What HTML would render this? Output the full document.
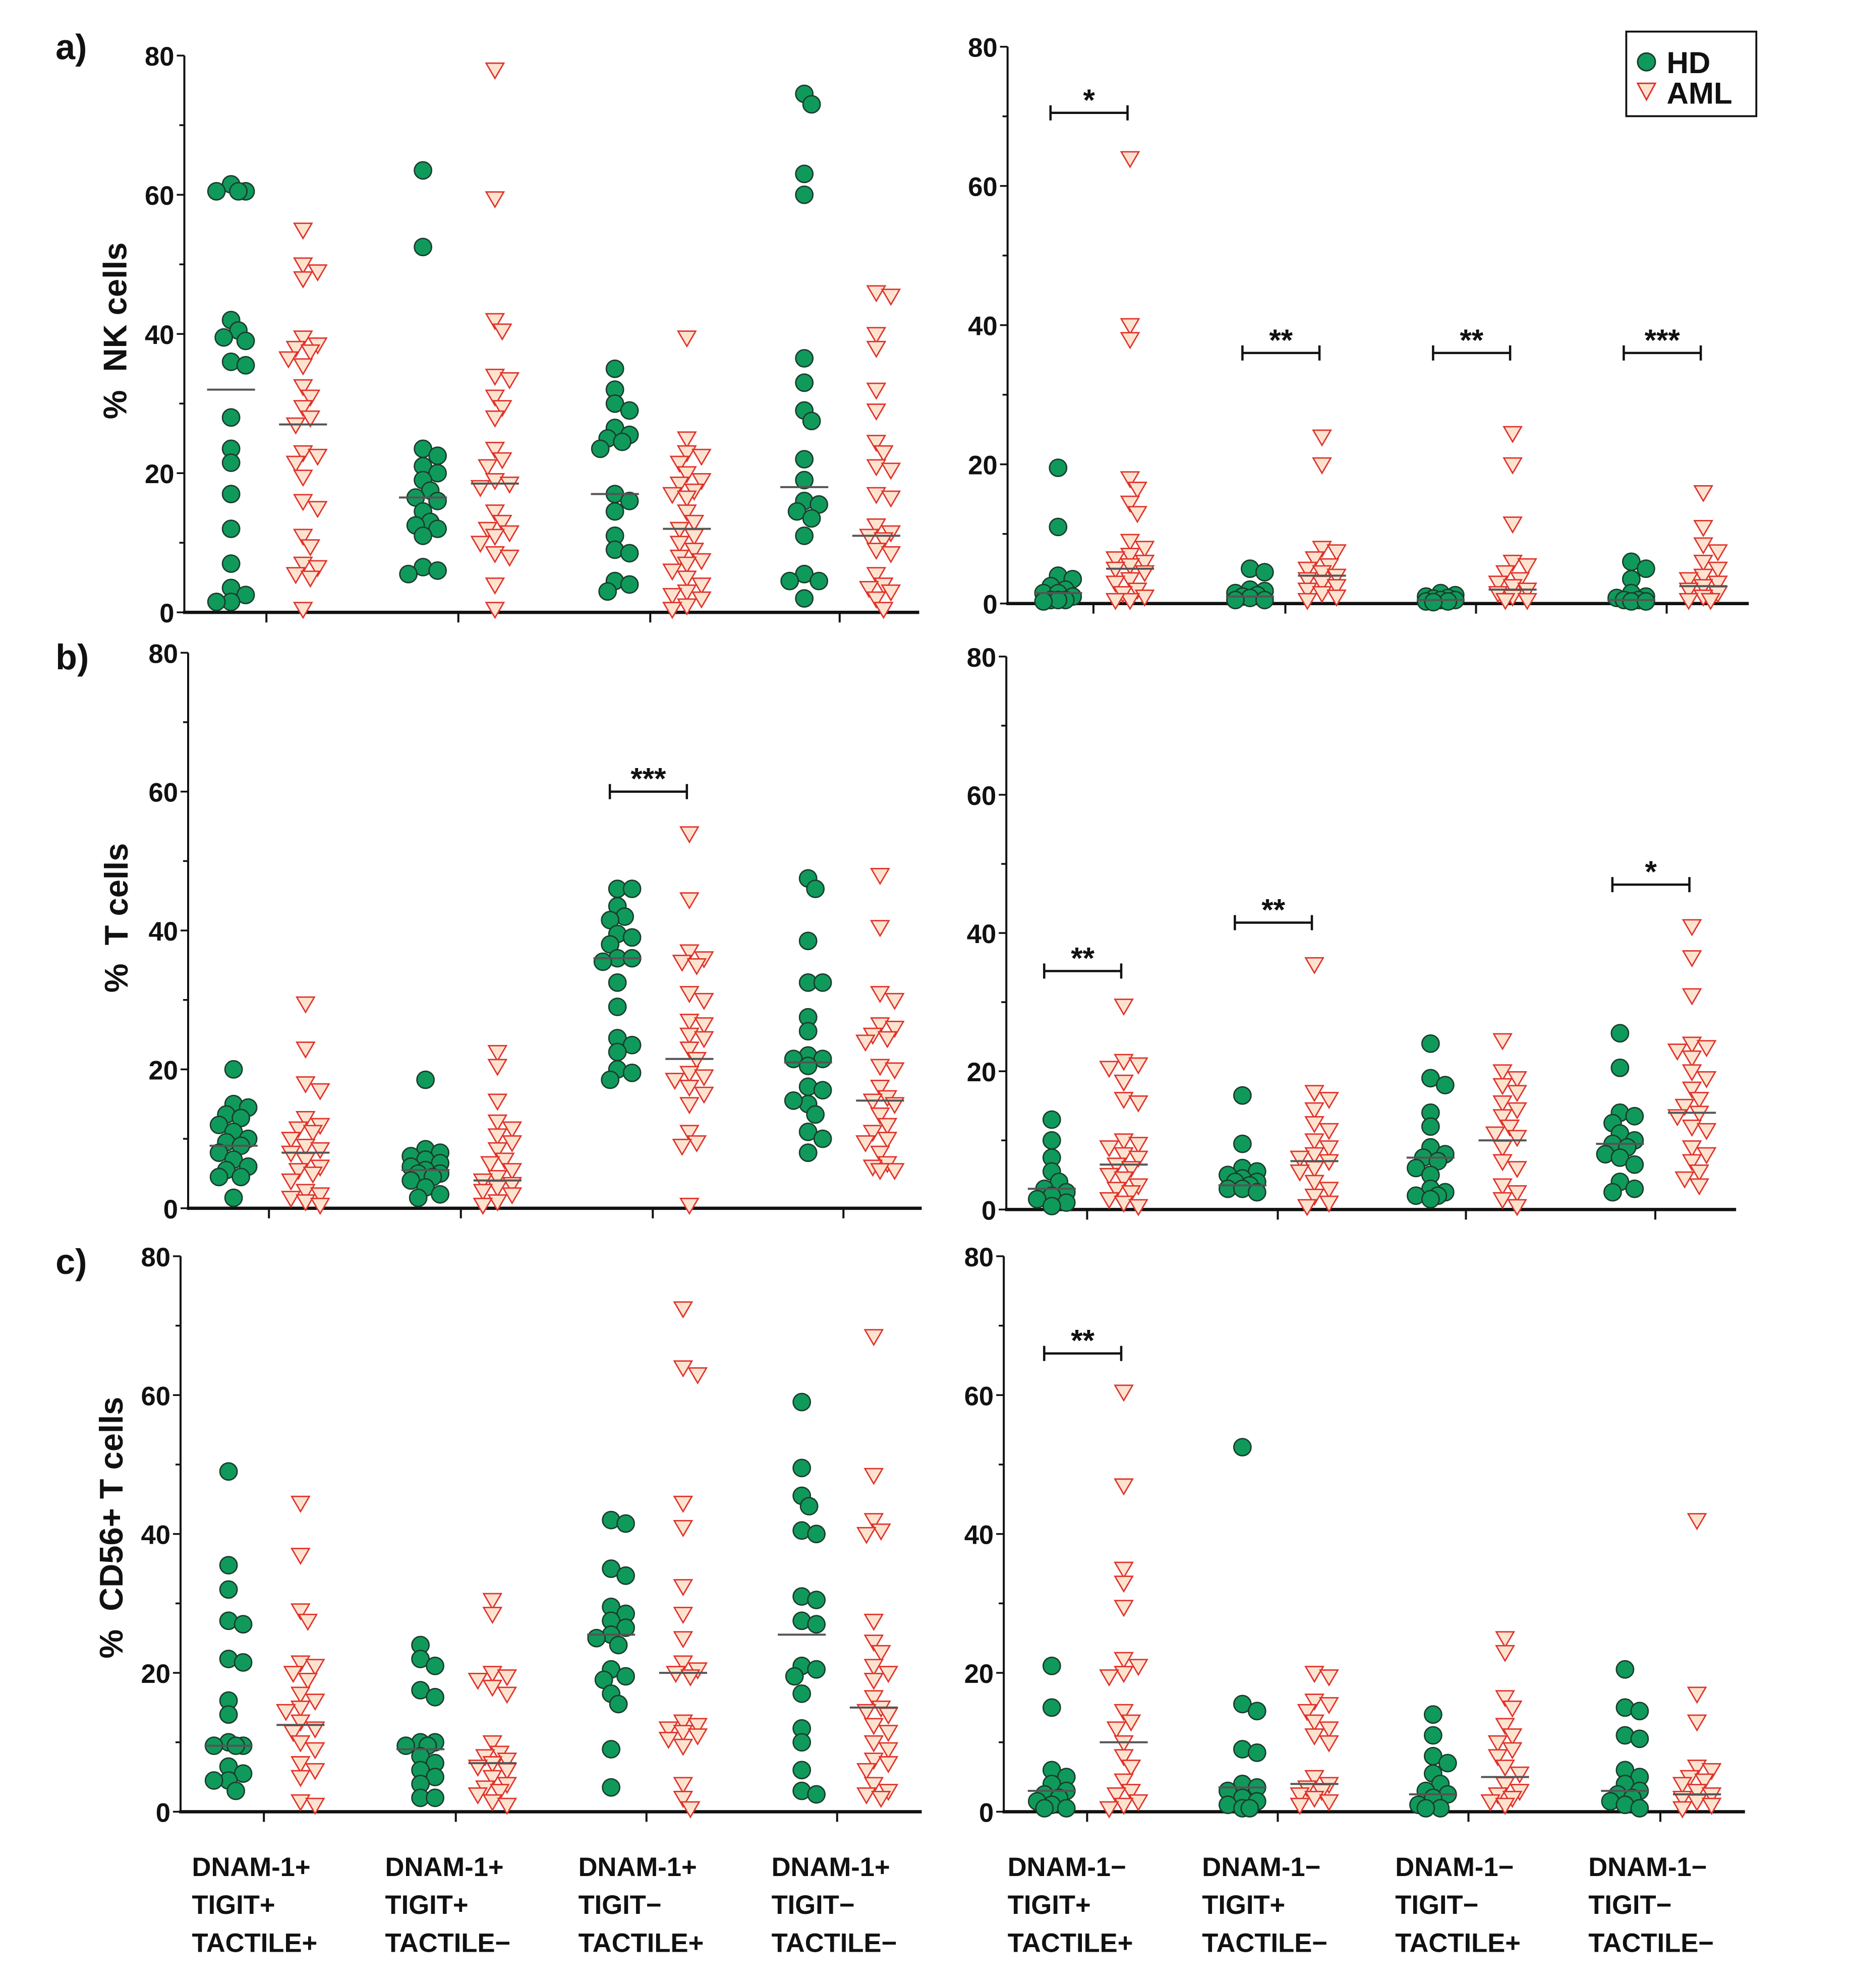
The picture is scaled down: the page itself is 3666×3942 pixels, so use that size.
<!DOCTYPE html>
<html><head><meta charset="utf-8"><style>
html,body{margin:0;padding:0;background:#fff;}
svg{display:block;}
text{font-family:"Liberation Sans",Arial,sans-serif;font-weight:bold;fill:#111;}
.tick{font-family:"Liberation Sans Narrow","Liberation Sans",sans-serif;font-size:21px;}
</style></head><body>
<svg id="fig" xmlns="http://www.w3.org/2000/svg" width="3666" height="3942" viewBox="0 0 1464.4 1574.6">
<rect x="0" y="0" width="1464.4" height="1574.6" fill="#fff"/>
<text x="44" y="47" font-size="28">a)</text>
<text x="44" y="530" font-size="28">b)</text>
<text x="44" y="1009" font-size="28">c)</text>
<text transform="translate(100,262) rotate(-90)" text-anchor="middle" font-size="26" xml:space="preserve">%  NK cells</text>
<text transform="translate(101,727) rotate(-90)" text-anchor="middle" font-size="26" xml:space="preserve">%  T cells</text>
<text transform="translate(97,1210) rotate(-90)" text-anchor="middle" font-size="26" xml:space="preserve">%  CD56+ T cells</text>
<g>
<rect x="1288" y="25" width="103" height="67" fill="#fff" stroke="#111" stroke-width="1.5"/>
<circle cx="1304" cy="49" r="7" fill="#0f9a5c" stroke="#1b3d2b" stroke-width="1.2"/>
<text x="1320" y="58" font-size="24">HD</text>
<polygon points="1297,66 1311,66 1304,79" fill="#fde3cf" stroke="#e0332b" stroke-width="1.2"/>
<text x="1320" y="82" font-size="24">AML</text>
</g>
<g font-size="21">
<text x="152" y="1486"><tspan x="152">DNAM-1+</tspan><tspan x="152" dy="30">TIGIT+</tspan><tspan x="152" dy="30">TACTILE+</tspan></text>
<text x="305" y="1486"><tspan x="305">DNAM-1+</tspan><tspan x="305" dy="30">TIGIT+</tspan><tspan x="305" dy="30">TACTILE−</tspan></text>
<text x="458" y="1486"><tspan x="458">DNAM-1+</tspan><tspan x="458" dy="30">TIGIT−</tspan><tspan x="458" dy="30">TACTILE+</tspan></text>
<text x="611" y="1486"><tspan x="611">DNAM-1+</tspan><tspan x="611" dy="30">TIGIT−</tspan><tspan x="611" dy="30">TACTILE−</tspan></text>
<text x="798" y="1486"><tspan x="798">DNAM-1−</tspan><tspan x="798" dy="30">TIGIT+</tspan><tspan x="798" dy="30">TACTILE+</tspan></text>
<text x="952" y="1486"><tspan x="952">DNAM-1−</tspan><tspan x="952" dy="30">TIGIT+</tspan><tspan x="952" dy="30">TACTILE−</tspan></text>
<text x="1105" y="1486"><tspan x="1105">DNAM-1−</tspan><tspan x="1105" dy="30">TIGIT−</tspan><tspan x="1105" dy="30">TACTILE+</tspan></text>
<text x="1258" y="1486"><tspan x="1258">DNAM-1−</tspan><tspan x="1258" dy="30">TIGIT−</tspan><tspan x="1258" dy="30">TACTILE−</tspan></text>
</g>
</svg>
<script>
// ---- data (percent values) ----
const yTicks = [0, 20, 40, 60, 80];
const yTickLabels = ["0", "20", "40", "60", "80"];
const nkPosHD = [[61.5,60.5,60.5,60.5,42,40.5,39.5,39,36,35.5,28,23.5,21.5,17,12,7,3.5,2.5,1.5,1.5],[63.5,52.5,23.5,22.5,21,20,19,17.5,16.5,16,14.5,13,12.5,12,11,6.5,6,5.5],[35,32,30,29,26.5,25.5,25,24.5,23.5,17,16,14.5,11,9,8.5,4.5,4,3],[74.5,73,63,60,36.5,33,29,27.5,22,19,16,15.5,14.5,13.5,11,5.5,4.5,4.5,2]];
const nkPosAML = [[55,50,49,48,39.5,38.5,38,37.5,36.5,35.5,32.5,31,29.5,28,27,23,22.5,21.5,19.5,16,15,11,9.5,7,6.5,5.5,5,0.5],[78,59.5,42,40.5,34,33.5,31,29.5,28,23.5,22,21,19,18.5,18,14.5,13,12,11.5,11,10,8.5,8,4,0.5],[39.5,25,23,22.5,21.5,20,19,18.5,17.5,17,16.5,14.5,13,12,11,10,9,8,7.5,7,6,5,4,3,2.5,2,1,0.5],[46,45.5,40,38,32,29,24.5,23,21,20.5,17,16.5,12.5,11.5,11,10.5,9,8.5,5.5,4,3.5,3,2,0.5]];
const nkPosMedHD = [32,16.5,17,18];
const nkPosMedAML = [27,18.5,12,11];
const nkNegHD = [[19.5,11,4,3.5,2.5,2,1.5,1.5,1,0.5,0.5,0.5,0.3],[5,4.5,2,1.8,1.5,1.2,1,0.8,0.5,0.5],[1.5,1.2,1,0.8,0.7,0.5,0.5,0.3,0.3,0.2],[6,5,3.5,1.5,1,0.8,0.5,0.5,0.3,0.3]];
const nkNegAML = [[64,40,38,18,16.5,14.5,13,9,8,7,6.5,6,5.5,5,4.5,3.5,3,2,1.5,1,0.5,0.5],[24,20,8,7.5,6.5,5.5,5,4.5,4,3.5,3,2.5,2,1.5,1,0.5],[24.5,20,11.5,6,5.5,4.5,3.5,3,2.5,2,1.5,1,0.5,0.5],[16,11,8.5,7.5,6,5,4,3.5,3,2.5,2,1.5,1,0.5,0.5]];
const nkNegMedHD = [1.5,1,0.5,0.5];
const nkNegMedAML = [5,4,2,2.5];
const nkNegSig = [["*",70.5],["**",36],["**",36],["***",36]];
const tPosHD = [[20,15,14.5,13.5,13,12,11,10,9.5,9,8,7,6,5.5,4.5,4.5,1.5],[18.5,8.5,8,7.5,7,6.5,6,5.5,5,5,4.5,4,3,2,1.5],[46,46,43.5,42,41.5,39.5,39,38,36,36,35.5,32.5,29,24.5,23.5,22.5,20,19.5,18.5],[47.5,46,38.5,32.5,32.5,27.5,25.5,22,21.5,21.5,20.5,17.5,17,15,15.5,13.5,11,10,8]];
const tPosAML = [[29.5,23,18,17,13,12,11.5,11,10,9,8.5,8,7,6,5.5,5,4,2.5,2,1.5,1,0.5],[22.5,20.5,15.5,12.5,11.5,10.5,9.5,8.5,7,6.5,5.5,4.5,4,3.5,3,2.5,2,1,0.5],[54,44.5,37,36,35.5,35,31,30,27,26.5,25,24.5,23,21.5,19.5,19,18.5,17.5,16.5,15,11,9.5,9,0.5],[48,40.5,31,30,26.5,26,25,24.5,24,20.5,20,17.5,16,15.5,15,13.5,12,11,10,9.5,8,6.5,6,5.5,5.5]];
const tPosMedHD = [9,5.5,36,21];
const tPosMedAML = [8,4,21.5,15.5];
const tPosSig = [null,null,["***",60],null];
const tNegHD = [[13,10,7.5,5.5,4,3,2.5,2,1.5,1,0.5],[16.5,9.5,6,5.5,5,4.5,4,4,3.5,3,3,2.5],[24,19,18,14,12,9,8,7.5,7,6,5,3,2.5,2,2,1.5],[25.5,20.5,14,13.5,12.5,11,10,9.5,9,8,7.5,6.5,4,3,2.5]];
const tNegAML = [[29.5,21.5,21,20.5,18.5,16,15.5,10,9.5,9,8,7.5,6.5,6,5,4.5,3.5,3,2.5,1.5,1,0.5],[35.5,17,16,14.5,12.5,11.5,10,9,8,7.5,7,6,5.5,4,3,2,1,0.5],[24.5,20,19,18,17,15.5,14.5,13.5,12,11,10.5,9,7,6,3.5,2.5,1.5,0.5],[41,36.5,31,24,23.5,23,22,20,19,17.5,16,15,14,13.5,12,11.5,9,8,7,5.5,4.5,3.5]];
const tNegMedHD = [3,3.5,7.5,9.5];
const tNegMedAML = [6.5,7,10,14];
const tNegSig = [["**",34.5],["**",41.5],null,["*",47]];
const cdPosHD = [[49,35.5,32,27.5,27,22,21.5,16,14,10,9.5,9.5,9.5,6.5,5.5,4.5,4.5,3],[24,22,21,17.5,16.5,10,10,9.5,9.5,8,7,6,5,4,2,2],[42,41.5,35,34,29.5,28.5,27.5,26.5,25.5,25,24,20.5,19.5,19,17,15.5,9,3.5],[59,49.5,45.5,44,40.5,40,31,30.5,27.5,27,21,20.5,19.5,17,12,10,6,3,2.5]];
const cdPosAML = [[44.5,37,29,27.5,21.5,21,20,19,17,16,15,14.5,13,12,11.5,10,9,7,6,5,1.5,1],[30.5,28.5,20,19.5,19,18,17,10,8.5,8,7.5,7,6.5,6,5,4,3.5,3,2.5,1.5,1],[72.5,64,63,44.5,41,32.5,28.5,25,21.5,20.5,20,19.5,13,12.5,12,11.5,11,10.5,9.5,4,2,0.5],[68.5,48.5,42,40.5,40,27.5,24.5,23,21,20,19,16.5,15,14.5,14,12.5,11.5,10,9,7.5,7,6,4,3,2.5,2]];
const cdPosMedHD = [9.5,9,25.5,25.5];
const cdPosMedAML = [12.5,7,20,15];
const cdNegHD = [[21,15,6,5,4,3,2.5,2,1.5,1,0.5,0.5],[52.5,15.5,14.5,9,8.5,4,3.5,3,2,1.5,1,0.5,0.5],[14,11,8,7,5.5,4,3,2.5,2,1,0.5,0.5],[20.5,15,14.5,11,10.5,6,5,4,3,2.5,2,1.5,1,0.5]];
const cdNegAML = [[60.5,47,35,33,29.5,22,21,20,19.5,14.5,13,12,10,8,6.5,4.5,3,2.5,1.5,1,0.5],[20,19.5,16,15.5,14.5,13,12,11,10,5,4,3.5,3,2.5,2,1.5,1],[25,23,16.5,15,12.5,11,10,9,8,6.5,5.5,4,3,2.5,2,1.5,1],[42,17,13,6.5,6,5,4.5,4,3,2.5,2,1.5,1,0.5]];
const cdNegMedHD = [3,3.5,2.5,3];
const cdNegMedAML = [10,4,5,2.5];
const cdNegSig = [["**",66],null,null,null];

// ---- layout ----
const NS = "http://www.w3.org/2000/svg";
const svg = document.getElementById("fig");
const panels = [
 {id:"nk-pos", ax:146, top:44, y0:485, end:728, ticks:[211,363,515,665], hd:nkPosHD, aml:nkPosAML, mh:nkPosMedHD, ma:nkPosMedAML, sig:[null,null,null,null]},
 {id:"nk-neg", ax:798, top:37, y0:478, end:1385, ticks:[866,1018,1169,1320], hd:nkNegHD, aml:nkNegAML, mh:nkNegMedHD, ma:nkNegMedAML, sig:nkNegSig},
 {id:"t-pos", ax:149, top:517, y0:957, end:730, ticks:[213,365,517,668], hd:tPosHD, aml:tPosAML, mh:tPosMedHD, ma:tPosMedAML, sig:tPosSig},
 {id:"t-neg", ax:797, top:520, y0:958, end:1375, ticks:[861,1012,1161,1311], hd:tNegHD, aml:tNegAML, mh:tNegMedHD, ma:tNegMedAML, sig:tNegSig},
 {id:"cd56-pos", ax:143, top:995, y0:1435, end:730, ticks:[209,361,512,663], hd:cdPosHD, aml:cdPosAML, mh:cdPosMedHD, ma:cdPosMedAML, sig:[null,null,null,null]},
 {id:"cd56-neg", ax:795, top:995, y0:1435, end:1382, ticks:[861,1012,1163,1315], hd:cdNegHD, aml:cdNegAML, mh:cdNegMedHD, ma:cdNegMedAML, sig:cdNegSig}
];
function mk(tag, attrs, parent){
  const e = document.createElementNS(NS, tag);
  for (const k in attrs) e.setAttribute(k, attrs[k]);
  (parent||svg).appendChild(e);
  return e;
}
function swarm(vals, yf, r){
  const placed = [];
  const offs = [];
  const step = r * 0.85, maxOff = 17, thr = r * 1.45;
  vals.forEach(v => {
    const y = yf(v);
    let best = 0, bestD = -1, chosen = null;
    for (let k = 0; k < 60; k++){
      const o = (k === 0) ? 0 : ((k % 2 ? 1 : -1) * Math.ceil(k/2) * step);
      if (Math.abs(o) > maxOff) break;
      let md = 1e9;
      for (const p of placed){ const dx = p[0]-o, dy = p[1]-y; md = Math.min(md, Math.sqrt(dx*dx+dy*dy)); }
      if (md >= thr){ chosen = o; break; }
      if (md > bestD){ bestD = md; best = o; }
    }
    if (chosen === null) chosen = best;
    placed.push([chosen, y]);
    offs.push(chosen);
  });
  return offs;
}
panels.forEach(P => {
  const g = mk("g", {});
  
  
  const ys = v => P.y0 - (P.y0 - P.top) * v / 80;
  const yl = mk("line", {x1:P.ax, y1:P.top, x2:P.ax, y2:P.y0, stroke:"#111", "stroke-width":1.6}, g);
  
  
  for (let v = 0; v <= 80; v += 10){
    const major = v % 20 === 0;
    const t = mk("line", {x1:P.ax - (major?6:4), y1:ys(v), x2:P.ax, y2:ys(v), stroke:"#111", "stroke-width":1.4}, g);
    
    
  }
  yTicks.forEach((v, i) => {
    const t = mk("text", {x:P.ax - 8, y:ys(v) + 8, "text-anchor":"end", class:"tick"}, g);
    t.textContent = yTickLabels[i];
    
    
  });
  const xl = mk("line", {x1:P.ax - 1, y1:P.y0, x2:P.end, y2:P.y0, stroke:"#111", "stroke-width":2.6}, g);
  
  
  P.ticks.forEach(tx => {
    const t = mk("line", {x1:tx, y1:P.y0, x2:tx, y2:P.y0 + 8, stroke:"#111", "stroke-width":1.6}, g);
    
    
  });
  P.ticks.forEach((tx, gi) => {
    const xh = tx - 28, xa = tx + 29;
    const oh = swarm(P.hd[gi], ys, 6.8);
    P.hd[gi].forEach((v, i) => {
      const c = mk("circle", {cx:xh + oh[i], cy:ys(v), r:6.8, fill:"#0f9a5c", stroke:"#1b3d2b", "stroke-width":1.1}, g);
      
      
    });
    const oa = swarm(P.aml[gi], ys, 6.8);
    P.aml[gi].forEach((v, i) => {
      const x = xa + oa[i], y = ys(v);
      const p = mk("polygon", {points:(x-7)+","+(y-5)+" "+(x+7)+","+(y-5)+" "+x+","+(y+7), fill:"#fde3cf", stroke:"#e0332b", "stroke-width":1.1}, g);
      
      
    });
    const m1 = mk("line", {x1:xh - 19, y1:ys(P.mh[gi]), x2:xh + 19, y2:ys(P.mh[gi]), stroke:"#555", "stroke-width":1.6}, g);
    
    
    const m2 = mk("line", {x1:xa - 19, y1:ys(P.ma[gi]), x2:xa + 19, y2:ys(P.ma[gi]), stroke:"#555", "stroke-width":1.6}, g);
    
    
    const s = P.sig[gi];
    if (s){
      const yb = ys(s[1]);
      const sg = mk("g", {stroke:"#111", "stroke-width":1.8}, g);
      
      
      mk("line", {x1:xh - 6, y1:yb, x2:xa - 2, y2:yb}, sg);
      mk("line", {x1:xh - 6, y1:yb - 6, x2:xh - 6, y2:yb + 6}, sg);
      mk("line", {x1:xa - 2, y1:yb - 6, x2:xa - 2, y2:yb + 6}, sg);
      const st = mk("text", {x:(xh + xa - 8)/2, y:yb - 2, "text-anchor":"middle", "font-size":24}, g);
      st.textContent = s[0];
      
      
    }
  });
});
</script>
</body></html>
